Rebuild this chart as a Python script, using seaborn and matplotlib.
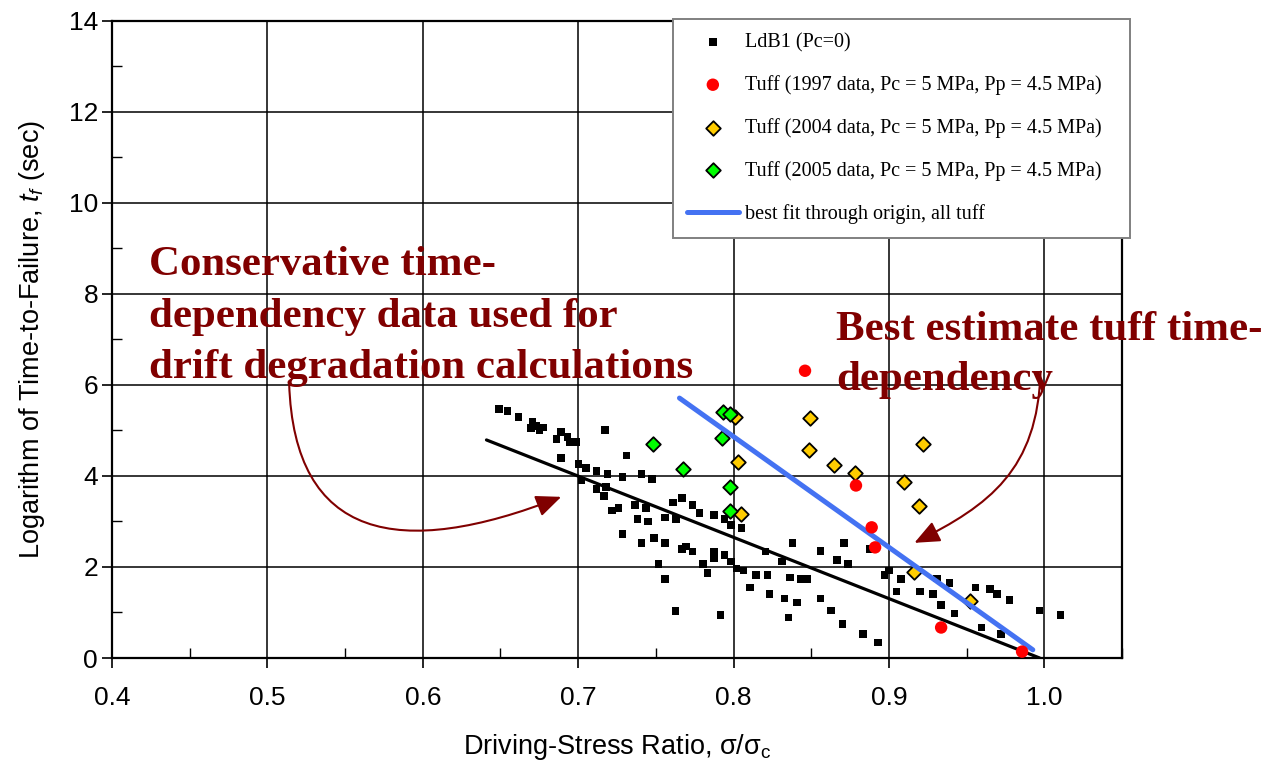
import matplotlib
matplotlib.use('Agg')
import matplotlib.pyplot as plt
import seaborn as sns
from matplotlib.patches import FancyArrowPatch
from matplotlib.path import Path
from matplotlib.ticker import MultipleLocator, FormatStrFormatter

# ---------------- data ----------------
ldb1_x = [0.649, 0.6545, 0.6616, 0.6706, 0.6696, 0.6728, 0.675, 0.6777, 0.6889, 0.6861,
          0.6932, 0.6947, 0.6986, 0.6889, 0.7174, 0.7001, 0.705, 0.7118, 0.7189, 0.7312,
          0.7286, 0.7408, 0.7475, 0.7022, 0.7118, 0.7179, 0.7168, 0.7217, 0.726, 0.7365,
          0.7436, 0.7612, 0.7668, 0.7737, 0.778, 0.7876, 0.7941, 0.7383, 0.7451, 0.7559,
          0.763, 0.7286, 0.7408, 0.749, 0.7559, 0.7668, 0.7694, 0.7736, 0.7876, 0.7876,
          0.7941, 0.7984, 0.8052, 0.7984, 0.802, 0.8063, 0.8145, 0.8106, 0.7517, 0.7805,
          0.7833, 0.7559, 0.7627, 0.7915, 0.838, 0.8205, 0.8312, 0.8219, 0.8365, 0.8434,
          0.8477, 0.8559, 0.8709, 0.8666, 0.8735, 0.8879, 0.8231, 0.8327, 0.8409, 0.8559,
          0.8354, 0.8627, 0.8702, 0.8835, 0.8928, 0.8971, 0.8999, 0.9078, 0.905, 0.9201,
          0.9282, 0.931, 0.939, 0.9336, 0.9422, 0.9557, 0.9651, 0.9694, 0.9776, 0.9597,
          0.9722, 0.9969, 1.0104]
ldb1_y = [5.47, 5.43, 5.29, 5.19, 5.05, 5.10, 5.00, 5.06, 4.97, 4.81,
          4.86, 4.74, 4.74, 4.40, 5.01, 4.26, 4.17, 4.11, 4.04, 4.45,
          3.97, 4.04, 3.93, 3.90, 3.71, 3.76, 3.56, 3.24, 3.29, 3.36,
          3.29, 3.42, 3.51, 3.36, 3.19, 3.14, 3.05, 3.05, 3.00, 3.09,
          3.05, 2.73, 2.53, 2.63, 2.53, 2.39, 2.45, 2.34, 2.34, 2.20,
          2.26, 2.92, 2.86, 2.12, 1.97, 1.92, 1.82, 1.55, 2.07, 2.07,
          1.87, 1.74, 1.03, 0.95, 2.53, 2.34, 2.12, 1.82, 1.77, 1.74,
          1.74, 2.35, 2.53, 2.15, 2.07, 2.39, 1.41, 1.31, 1.22, 1.31,
          0.89, 1.04, 0.75, 0.53, 0.34, 1.82, 1.92, 1.74, 1.46, 1.46,
          1.41, 1.75, 1.65, 1.16, 0.98, 1.55, 1.51, 1.41, 1.27, 0.67,
          0.53, 1.04, 0.95]

tuff1997_x = [0.846, 0.8788, 0.8889, 0.8911, 0.9336, 0.9857]
tuff1997_y = [6.31, 3.79, 2.87, 2.43, 0.67, 0.14]

tuff2004_x = [0.8009, 0.8031, 0.8048, 0.8494, 0.8484, 0.8649, 0.8782, 0.9095, 0.9218, 0.9196, 0.916, 0.9523]
tuff2004_y = [5.30, 4.30, 3.16, 5.27, 4.57, 4.23, 4.06, 3.86, 4.70, 3.35, 1.90, 1.26]

tuff2005_x = [0.7479, 0.7672, 0.7924, 0.7934, 0.7977, 0.7977, 0.7977]
tuff2005_y = [4.70, 4.15, 4.84, 5.41, 5.36, 3.76, 3.22]

ldb1_fit_x = [0.641, 0.997]
ldb1_fit_y = [4.79, 0.0]

tuff_fit_x = [0.7652, 0.9926]
tuff_fit_y = [5.71, 0.18]

labels = ['LdB1 (Pc=0)',
          'Tuff (1997 data, Pc = 5 MPa, Pp = 4.5 MPa)',
          'Tuff (2004 data, Pc = 5 MPa, Pp = 4.5 MPa)',
          'Tuff (2005 data, Pc = 5 MPa, Pp = 4.5 MPa)',
          'best fit through origin, all tuff']

x_ticks = [0.4, 0.5, 0.6, 0.7, 0.8, 0.9, 1.0]
y_ticks = [0, 2, 4, 6, 8, 10, 12, 14]

# ---------------- style ----------------
sns.set_theme(style='white')
plt.rcParams['font.family'] = ['Liberation Sans', 'DejaVu Sans']
plt.rcParams['mathtext.fontset'] = 'custom'
plt.rcParams['mathtext.rm'] = 'Liberation Sans'
plt.rcParams['mathtext.it'] = 'Liberation Sans:italic'
plt.rcParams['text.color'] = 'black'

DARKRED = '#800000'

fig = plt.figure(figsize=(12.64, 7.64), dpi=100)
ax = fig.add_axes([112 / 1264, 1 - 658 / 764, 1010 / 1264, (658 - 20.7) / 764])

sns.scatterplot(x=ldb1_x, y=ldb1_y, marker='s', color='black', s=30, edgecolor='none',
                label=labels[0], ax=ax, zorder=3)
sns.lineplot(x=ldb1_fit_x, y=ldb1_fit_y, color='black', lw=2.3, ax=ax, zorder=4)
sns.scatterplot(x=tuff2004_x, y=tuff2004_y, marker='D', color='#FFCC00', s=55,
                edgecolor='black', linewidth=1.3, label=labels[2], ax=ax, zorder=5)
sns.scatterplot(x=tuff2005_x, y=tuff2005_y, marker='D', color='#00FF00', s=55,
                edgecolor='black', linewidth=1.3, label=labels[3], ax=ax, zorder=6)
sns.lineplot(x=tuff_fit_x, y=tuff_fit_y, color='#4472F2', lw=3.6, label=labels[4],
             ax=ax, zorder=6.5)
sns.scatterplot(x=tuff1997_x, y=tuff1997_y, marker='o', color='#FF0000', s=80,
                edgecolor='none', label=labels[1], ax=ax, zorder=7)

# ---------------- axes ----------------
ax.set_xlim(0.4, 1.05)
ax.set_ylim(0, 14)
ax.set_xticks(x_ticks)
ax.set_yticks(y_ticks)
ax.xaxis.set_minor_locator(MultipleLocator(0.05))
ax.yaxis.set_minor_locator(MultipleLocator(1))
ax.xaxis.set_major_formatter(FormatStrFormatter('%.1f'))
ax.grid(True, which='major', color='black', lw=1.1)
ax.set_axisbelow(True)
for sp in ax.spines.values():
    sp.set_visible(True)
    sp.set_color('black')
    sp.set_linewidth(1.6)
ax.tick_params(axis='both', which='major', direction='out', length=7, width=1.2,
               color='black', labelsize=19, labelcolor='black', bottom=True, left=True)
ax.tick_params(axis='x', which='major', pad=13)
ax.tick_params(axis='y', which='major', pad=3)
ax.tick_params(axis='both', which='minor', direction='in', length=7, width=1.0,
               color='black', bottom=True, left=True)

ax.set_xlabel('Driving-Stress Ratio, σ/σ$_\\mathrm{c}$', fontsize=19.5, color='black', labelpad=16)
ax.set_ylabel('Logarithm of Time-to-Failure, $t_f$ (sec)', fontsize=19.5, color='black', labelpad=16)

# ---------------- legend ----------------
h, l = ax.get_legend_handles_labels()
order = [l.index(name) for name in labels]
leg = ax.legend([h[i] for i in order], [l[i] for i in order],
                loc='upper left', bbox_to_anchor=(0.555, 0.659, 0.453, 0.344), mode='expand',
                prop={'family': 'Liberation Serif', 'size': 14.5},
                frameon=True, fancybox=False, framealpha=1, facecolor='white',
                edgecolor='#808080', labelspacing=1.14, handlelength=2.6,
                handletextpad=0.3, borderpad=0.7, borderaxespad=0, labelcolor='black')
leg.get_frame().set_linewidth(1.4)
leg.set_zorder(10)

# ---------------- annotations ----------------
ann_font = dict(family='Liberation Serif', weight='bold', size=30.9, color=DARKRED)
ax.text(0.4238, 8.42, 'Conservative time-', va='baseline', ha='left', **ann_font)
ax.text(0.4238, 7.27, 'dependency data used for', va='baseline', ha='left', **ann_font)
ax.text(0.4238, 6.15, 'drift degradation calculations', va='baseline', ha='left', **ann_font)
ax.text(0.8662, 6.99, 'Best estimate tuff time-', va='baseline', ha='left', **ann_font)
ax.text(0.8662, 5.89, 'dependency', va='baseline', ha='left', **ann_font)

codes = [Path.MOVETO, Path.CURVE4, Path.CURVE4, Path.CURVE4]
p1 = Path([(0.514, 6.04), (0.5172, 2.59), (0.5848, 2.15), (0.6891, 3.54)], codes)
p2 = Path([(0.9976, 6.29), (0.9956, 4.13), (0.9647, 3.36), (0.9164, 2.53)], codes)
for p in (p1, p2):
    arr = FancyArrowPatch(path=p, arrowstyle='-|>,head_length=0.7,head_width=0.3',
                          mutation_scale=22, color=DARKRED, lw=1.5,
                          transform=ax.transData, zorder=8)
    ax.add_patch(arr)

fig.savefig('out.png', dpi=100)
